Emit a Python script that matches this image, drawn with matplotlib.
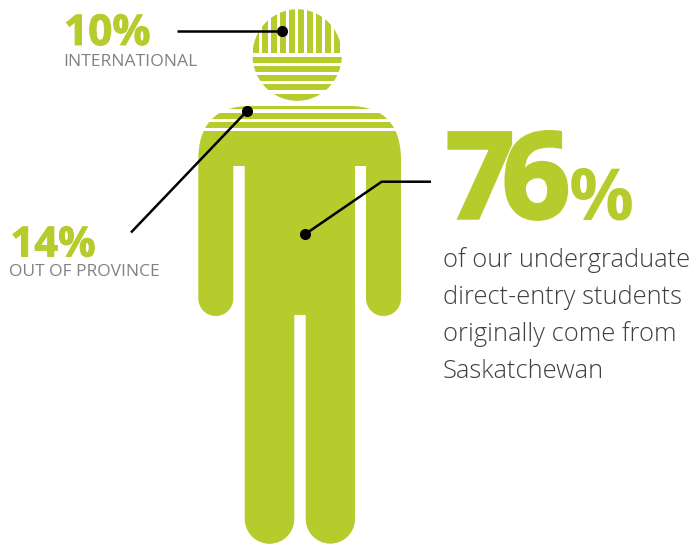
import matplotlib
matplotlib.use('Agg')
import numpy as np
import matplotlib.pyplot as plt
import matplotlib.patheffects as pe
from matplotlib.patches import Ellipse, PathPatch, Rectangle
from matplotlib.path import Path

GREEN = '#b5cc2c'
GREY = '#808285'

# shares of the student body and their captions
pct_international = 10
pct_out_of_province = 14
pct_saskatchewan = 76
label_international = 'INTERNATIONAL'
label_out_of_province = 'OUT OF PROVINCE'
body_lines = ['of our undergraduate', 'direct-entry students',
              'originally come from', 'Saskatchewan']

fig = plt.figure(figsize=(6.96, 5.44), dpi=100)
ax = fig.add_axes([0, 0, 1, 1])
ax.set_xlim(0, 696)
ax.set_ylim(544, 0)
ax.axis('off')

plt.rcParams['font.family'] = ['Open Sans', 'DejaVu Sans']

# head: vertical stripes on top, horizontal below
head_clip = Ellipse((297.2, 55), 89.4, 91.6, transform=ax.transData)
for x in np.arange(253.3, 342, 9):
    r = ax.add_patch(Rectangle((x, 9), 5.7, 44.3, fc=GREEN, ec='none'))
    r.set_clip_path(head_clip)
for y0, y1 in [(57.3, 63.3), (66, 72), (74.7, 81), (83.7, 89.7), (94, 101)]:
    r = ax.add_patch(Rectangle((250, y0), 95, y1 - y0, fc=GREEN, ec='none'))
    r.set_clip_path(head_clip)

# body outline, starts at top left of the shoulders and goes clockwise
M, L, C, Z = Path.MOVETO, Path.LINETO, Path.CURVE4, Path.CLOSEPOLY
k = 0.5523


def leg_end(x0, x1, y):
    # half circle going from the x0 side round to the x1 side
    r = abs(x1 - x0) / 2
    s = 1 if x1 > x0 else -1
    xm = (x0 + x1) / 2
    return [((x0, y + k * r), C), ((xm - s * k * r, y + r), C), ((xm, y + r), C),
            ((xm + s * k * r, y + r), C), ((x1, y + k * r), C), ((x1, y), C)]


seg = [((250, 106), M), ((349, 106), L),
       ((384, 106), C), ((401, 125), C), ((401, 160), C),
       ((401, 298.5), L)]
seg += leg_end(401, 366, 298.5)
seg += [((366, 166), L), ((355, 166), L), ((355, 519), L)]
seg += leg_end(355, 305.7, 519)
seg += [((305.7, 315), L), ((294.3, 315), L), ((294.3, 519), L)]
seg += leg_end(294.3, 244.7, 519)
seg += [((244.7, 166), L), ((233.3, 166), L), ((233.3, 298.5), L)]
seg += leg_end(233.3, 198.3, 298.5)
seg += [((198.3, 160), L),
        ((198.3, 125), C), ((215, 106), C), ((250, 106), C),
        ((250, 106), Z)]
verts, codes = zip(*seg)
ax.add_patch(PathPatch(Path(verts, codes), fc=GREEN, ec='none'))

# white bands across the shoulders
for y0, y1 in [(109, 113), (119, 122), (128, 131)]:
    ax.add_patch(Rectangle((190, y0), 220, y1 - y0, fc='white', ec='none'))

# leader lines with dots
ax.plot([177, 282], [31.3, 31.3], color='black', lw=1.8, solid_capstyle='butt')
ax.plot([131, 247], [232.5, 111], color='black', lw=1.8, solid_capstyle='butt')
ax.plot([431, 381.7, 305], [181.7, 181.7, 234.3], color='black', lw=1.8,
        solid_joinstyle='miter', solid_capstyle='butt')
ax.plot([281.7, 246.7, 305], [31.3, 111, 234.3], ls='none', marker='o', ms=8,
        color='black', mew=0)

# labels
heavy = [pe.withStroke(linewidth=0.7, foreground=GREEN)]
ax.text(64, 45, f'{pct_international}%', color=GREEN, fontsize=30.5,
        fontweight='bold', va='baseline', ha='left', path_effects=heavy)
ax.text(63, 65.5, label_international, color=GREY, fontsize=12.6,
        va='baseline', ha='left')
ax.text(10.5, 256.5, f'{pct_out_of_province}%', color=GREEN, fontsize=30,
        fontweight='bold', va='baseline', ha='left', path_effects=heavy)
ax.text(9, 276.5, label_out_of_province, color=GREY, fontsize=12.5,
        va='baseline', ha='left')

# the big digits sit much tighter than the font's normal spacing
big = str(pct_saskatchewan)
big_heavy = [pe.withStroke(linewidth=2.5, foreground=GREEN, joinstyle='miter')]
ax.text(446, 218, big[0], color=GREEN, fontsize=86, fontweight='bold',
        va='baseline', ha='left', path_effects=big_heavy)
ax.text(502, 218, big[1], color=GREEN, fontsize=86, fontweight='bold',
        va='baseline', ha='left', path_effects=big_heavy)
ax.text(569, 220, '%', color=GREEN, fontsize=52,
        fontweight='bold', va='baseline', ha='left')

for i, line in enumerate(body_lines):
    ax.text(443, 266.7 + i * 37.1, line, color='#3f3f41', fontsize=18.4,
            fontweight='light', va='baseline', ha='left')

fig.savefig('out.png', dpi=100)
